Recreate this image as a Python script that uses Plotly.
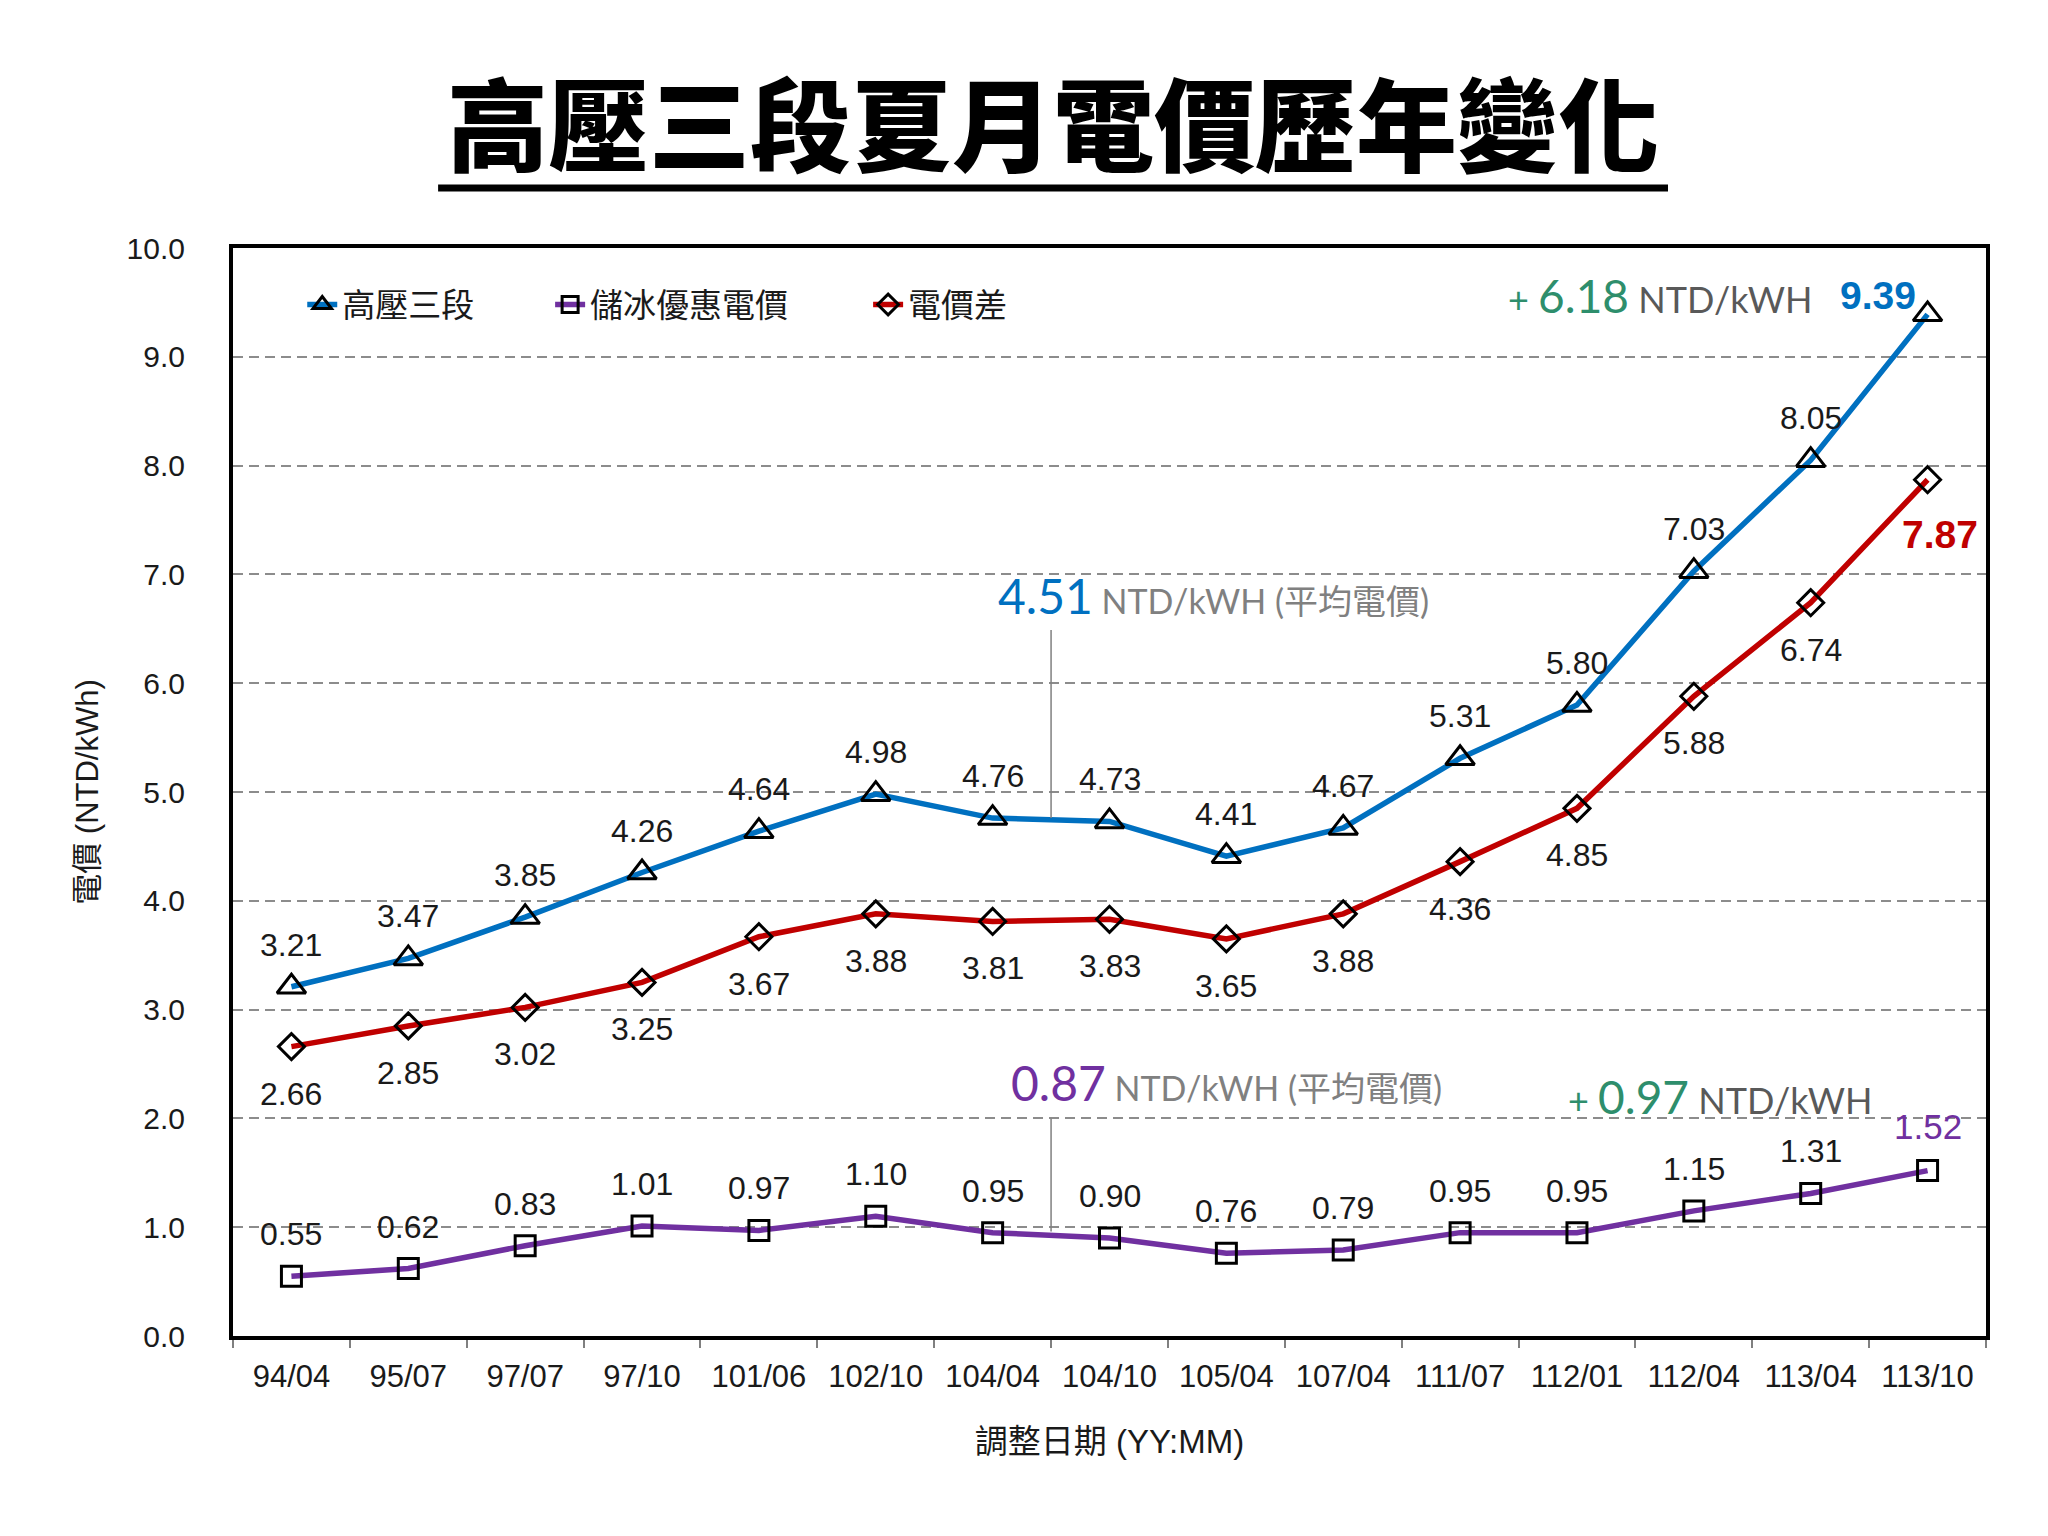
import plotly.graph_objects as go

# ---------------- data ----------------
categories = ["94/04", "95/07", "97/07", "97/10", "101/06", "102/10", "104/04", "104/10",
              "105/04", "107/04", "111/07", "112/01", "112/04", "113/04", "113/10"]
high_voltage = [3.21, 3.47, 3.85, 4.26, 4.64, 4.98, 4.76, 4.73, 4.41, 4.67, 5.31, 5.80, 7.03, 8.05, 9.39]
ice_storage = [0.55, 0.62, 0.83, 1.01, 0.97, 1.10, 0.95, 0.90, 0.76, 0.79, 0.95, 0.95, 1.15, 1.31, 1.52]
price_gap = [2.66, 2.85, 3.02, 3.25, 3.67, 3.88, 3.81, 3.83, 3.65, 3.88, 4.36, 4.85, 5.88, 6.74, 7.87]
avg_high = 4.51
avg_ice = 0.87
increase_high = 6.18
increase_ice = 0.97
y_tick_values = [0, 1, 2, 3, 4, 5, 6, 7, 8, 9, 10]

series_names = ["高壓三段", "儲冰優惠電價", "電價差"]
title_text = "高壓三段夏月電價歷年變化"
x_title = "調整日期 (YY:MM)"
y_title = "電價 (NTD/kWh)"

# ---------------- style ----------------
BLUE = "#0070C0"
PURPLE = "#7030A0"
RED = "#C00000"
GREEN = "#2E8E6C"
GRAY = "#808080"
DGRAY = "#595959"
TXT = "#1a1a1a"
ARIAL = "Liberation Sans, Arial, sans-serif"
CJK = "Noto Sans CJK TC, Noto Sans CJK SC, sans-serif"
CAL = "Lato, Noto Sans CJK TC, sans-serif"

W, H = 2048, 1536
L, R, T, B = 225, 70, 240, 208

fig = go.Figure()

def add_series(vals, name, color, symbol, size, legend):
    fig.add_trace(go.Scatter(
        x=categories, y=vals, name=name, mode="lines+markers", legend=legend,
        line=dict(color=color, width=5.5),
        marker=dict(symbol=symbol, size=size, color="black",
                    line=dict(color="black", width=3)),
        hoverinfo="x+y",
    ))

add_series(high_voltage, series_names[0], BLUE, "triangle-up-open", 25, "legend")
add_series(ice_storage, series_names[1], PURPLE, "square-open", 20, "legend2")
add_series(price_gap, series_names[2], RED, "diamond-open", 20, "legend3")

annotations = []

def label(x, y, text, yshift, xshift=0, color=TXT, size=32, family=ARIAL, bold=False):
    annotations.append(dict(
        x=x, y=y, xref="x", yref="y", text=(f"<b>{text}</b>" if bold else text),
        showarrow=False, xanchor="center", yanchor="middle",
        xshift=xshift, yshift=yshift,
        font=dict(family=family, size=size, color=color),
    ))

n = len(categories)
for i in range(n):
    last = (i == n - 1)
    # blue series (labels above)
    if last:
        label(categories[i], high_voltage[i], f"{high_voltage[i]:.2f}", 19, xshift=-50,
              color=BLUE, size=39, bold=True)
    else:
        label(categories[i], high_voltage[i], f"{high_voltage[i]:.2f}", 42)
    # red series (labels below)
    if last:
        label(categories[i], price_gap[i], f"{price_gap[i]:.2f}", -55, xshift=12,
              color=RED, size=39, bold=True)
    else:
        label(categories[i], price_gap[i], f"{price_gap[i]:.2f}", -47)
    # purple series (labels above)
    if last:
        label(categories[i], ice_storage[i], f"{ice_storage[i]:.2f}", 44,
              color=PURPLE, size=35)
    else:
        label(categories[i], ice_storage[i], f"{ice_storage[i]:.2f}", 42)

# average annotations
annotations.append(dict(
    x=6.03, y=6.81, xref="x", yref="y", xanchor="left", yanchor="middle", showarrow=False,
    text=f"<span style='color:{BLUE};font-size:48px'>{avg_high:.2f}</span> NTD/kWH (平均電價)",
    font=dict(family=CAL, size=34, color=GRAY),
))
annotations.append(dict(
    x=6.14, y=2.33, xref="x", yref="y", xanchor="left", yanchor="middle", showarrow=False,
    text=f"<span style='color:{PURPLE};font-size:48px'>{avg_ice:.2f}</span> NTD/kWH (平均電價)",
    font=dict(family=CAL, size=34, color=GRAY),
))
# increase annotations
annotations.append(dict(
    x=10.39, y=9.56, xref="x", yref="y", xanchor="left", yanchor="middle", showarrow=False,
    text=f"<span style='color:{GREEN}'>+ <span style='font-size:46px'>{increase_high:.2f}</span></span> NTD/kWH",
    font=dict(family=CAL, size=36, color=DGRAY),
))
annotations.append(dict(
    x=10.91, y=2.20, xref="x", yref="y", xanchor="left", yanchor="middle", showarrow=False,
    text=f"<span style='color:{GREEN}'>+ <span style='font-size:46px'>{increase_ice:.2f}</span></span> NTD/kWH",
    font=dict(family=CAL, size=36, color=DGRAY),
))

shapes = [
    # leader lines for average annotations
    dict(type="line", xref="x", yref="y", x0=6.5, x1=6.5, y0=4.76, y1=6.49,
         line=dict(color=GRAY, width=1.5)),
    dict(type="line", xref="x", yref="y", x0=6.5, x1=6.5, y0=0.96, y1=2.0,
         line=dict(color=GRAY, width=1.5)),
    # title underline
    dict(type="line", xref="paper", yref="paper", x0=0.117, x1=0.8186, y0=1.0551, y1=1.0551,
         line=dict(color="black", width=7)),
]

legend_common = dict(orientation="h", y=0.948, xanchor="left", yanchor="middle",
                     bgcolor="rgba(0,0,0,0)", font=dict(family=CJK, size=33, color=TXT))

fig.update_layout(
    width=W, height=H,
    margin=dict(l=L, r=R, t=T, b=B),
    paper_bgcolor="white", plot_bgcolor="white",
    title=dict(text=title_text, x=0.5103, y=0.9212, xref="container", yref="container",
               xanchor="center", yanchor="middle",
               font=dict(family=CJK, size=101, color="black", weight=900)),
    showlegend=True,
    legend=dict(x=0.0395, **legend_common),
    legend2=dict(x=0.1809, **legend_common),
    legend3=dict(x=0.3623, **legend_common),
    annotations=annotations,
    shapes=shapes,
    xaxis=dict(
        type="category", range=[-0.5, n - 0.5], tickson="boundaries",
        ticks="outside", ticklen=8, tickwidth=2, tickcolor=GRAY,
        showline=True, linewidth=4, linecolor="black", mirror=True,
        showgrid=False, zeroline=False,
        tickfont=dict(family=ARIAL, size=31, color=TXT),
        ticklabelstandoff=10,
        title=dict(text=x_title, font=dict(family=ARIAL + ", " + CJK, size=33, color=TXT),
                   standoff=38),
    ),
    yaxis=dict(
        range=[0, 10], tickvals=y_tick_values, tickformat=".1f",
        showgrid=True, gridcolor="#8c8c8c", gridwidth=2, griddash="10px,6px",
        showline=True, linewidth=4, linecolor="black", mirror=True,
        ticks="", zeroline=False,
        tickfont=dict(family=ARIAL, size=30, color=TXT),
        ticklabelstandoff=38,
        title=dict(text=y_title, font=dict(family=ARIAL + ", " + CJK, size=31, color=TXT),
                   standoff=20),
    ),
)

fig.write_html("out.html")
